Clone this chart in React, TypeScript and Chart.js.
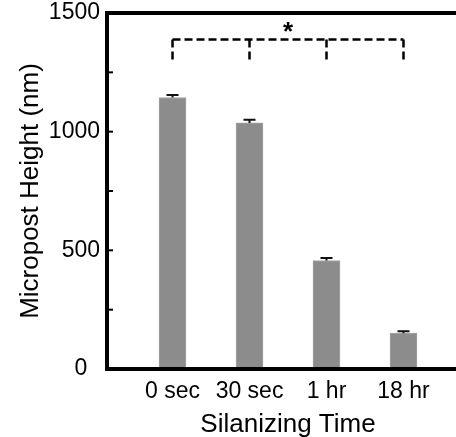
import { useEffect, useRef } from 'react';
import { Chart, registerables } from 'chart.js';

Chart.register(...registerables);

const categories = ['0 sec', '30 sec', '1 hr', '18 hr'];
const heights = [1144, 1037, 457, 151];
const errors = [10, 13, 11, 8];
const yLabelledTicks = [0, 500, 1000, 1500];
const bracketLevel = 1388;
const bracketDrop = 1291;
const starLevel = 1442;
const starLabel = '*';
const xTitle = 'Silanizing Time';
const yTitle = 'Micropost Height (nm)';

const FONT = '"Liberation Sans", Arial, Helvetica, sans-serif';

const annotate = {
  id: 'annotate',
  afterDatasetsDraw(chart: any) {
    const ctx = chart.ctx;
    const xs = chart.scales.x;
    const ys = chart.scales.y;
    const meta = chart.getDatasetMeta(0);
    ctx.save();
    // error bars (upper half)
    ctx.strokeStyle = '#111';
    ctx.lineWidth = 2;
    meta.data.forEach((bar: any, i: number) => {
      const x = bar.x;
      const y0 = ys.getPixelForValue(heights[i]);
      const y1 = ys.getPixelForValue(heights[i] + errors[i]);
      ctx.beginPath();
      ctx.moveTo(x, y0);
      ctx.lineTo(x, y1);
      ctx.moveTo(x - 6, y1);
      ctx.lineTo(x + 6, y1);
      ctx.stroke();
    });
    // significance bracket
    const xFirst = xs.getPixelForValue(0);
    const xLast = xs.getPixelForValue(categories.length - 1);
    const yB = ys.getPixelForValue(bracketLevel);
    const yD = ys.getPixelForValue(bracketDrop);
    ctx.setLineDash([8, 4]);
    ctx.lineWidth = 2.5;
    ctx.strokeStyle = '#000';
    ctx.beginPath();
    ctx.moveTo(xFirst, yB);
    ctx.lineTo(xLast, yB);
    ctx.stroke();
    categories.forEach((_, i) => {
      const x = xs.getPixelForValue(i);
      ctx.beginPath();
      ctx.moveTo(x, yB);
      ctx.lineTo(x, yD);
      ctx.stroke();
    });
    ctx.setLineDash([]);
    // star
    const mid = xs.getPixelForValue((categories.length - 1) / 2);
    ctx.font = `bold 26px ${FONT}`;
    ctx.fillStyle = '#000';
    ctx.textAlign = 'center';
    ctx.textBaseline = 'alphabetic';
    const m = ctx.measureText(starLabel);
    const yS = ys.getPixelForValue(starLevel);
    ctx.fillText(starLabel, mid, yS + (m.actualBoundingBoxAscent - m.actualBoundingBoxDescent) / 2);
    ctx.restore();
  },
  afterDraw(chart: any) {
    const ctx = chart.ctx;
    const ys = chart.scales.y;
    const { left, right, top } = chart.chartArea;
    ctx.save();
    // top frame line
    ctx.strokeStyle = '#000';
    ctx.lineWidth = 4;
    ctx.beginPath();
    ctx.moveTo(left - 2, top);
    ctx.lineTo(right, top);
    ctx.stroke();
    // inward tick marks
    ctx.lineWidth = 2;
    ys.ticks.forEach((t: any) => {
      const y = ys.getPixelForValue(t.value);
      ctx.beginPath();
      ctx.moveTo(left, y);
      ctx.lineTo(left + 6, y);
      ctx.stroke();
    });
    ctx.restore();
  },
};

export default function App() {
  const ref = useRef<HTMLCanvasElement | null>(null);
  useEffect(() => {
    if (!ref.current) return;
    const chart = new Chart(ref.current, {
      type: 'bar',
      data: {
        datasets: [
          {
            data: heights.map((v, i) => ({ x: i, y: v })),
            backgroundColor: '#8c8c8c',
            borderColor: '#a4a4a4',
            borderWidth: 1,
            barThickness: 27,
          },
        ],
      },
      options: {
        animation: false,
        responsive: false,
        devicePixelRatio: 1,
        layout: { padding: { top: 13, right: 0, bottom: 0, left: 0 } },
        plugins: { legend: { display: false }, tooltip: { enabled: false } },
        scales: {
          x: {
            type: 'linear',
            offset: false,
            min: -0.851,
            max: 3.682,
            grid: { display: false, drawTicks: false },
            border: { display: true, color: '#000', width: 4, z: 1 },
            afterBuildTicks: (s: any) => {
              s.ticks = categories.map((_, i) => ({ value: i }));
            },
            afterFit: (s: any) => {
              s.height = 68;
              s.paddingLeft = 0;
              s.paddingRight = 0;
            },
            ticks: {
              color: '#000',
              font: { family: FONT, size: 23 },
              padding: 9,
              maxRotation: 0,
              autoSkip: false,
              callback: (v: any) => categories[v] ?? '',
            },
            title: {
              display: true,
              text: '\u2002' + xTitle,
              color: '#000',
              font: { family: FONT, size: 26, lineHeight: 1 },
              padding: { top: 0, bottom: -1 },
            },
          },
          y: {
            min: 0,
            max: 1500,
            grid: { display: false, drawTicks: false },
            border: { display: true, color: '#000', width: 4, z: 1 },
            afterFit: (s: any) => {
              s.width = 107;
              s.paddingTop = 0;
              s.paddingBottom = 0;
            },
            ticks: {
              stepSize: 250,
              color: '#000',
              font: { family: FONT, size: 23 },
              padding: 7,
              autoSkip: false,
              callback: (v: any) =>
                yLabelledTicks.includes(v) ? (v === 0 ? '0\u2007' : String(v)) : '',
            },
            title: {
              display: true,
              text: yTitle,
              color: '#000',
              font: { family: FONT, size: 26, lineHeight: 1 },
              padding: { top: 18, bottom: 0 },
            },
          },
        },
      },
      plugins: [annotate],
    });
    return () => chart.destroy();
  }, []);
  return (
    <div style={{ position: 'absolute', left: 0, top: 0, width: 456, height: 437, background: '#fff' }}>
      <canvas ref={ref} width={456} height={437} />
    </div>
  );
}
